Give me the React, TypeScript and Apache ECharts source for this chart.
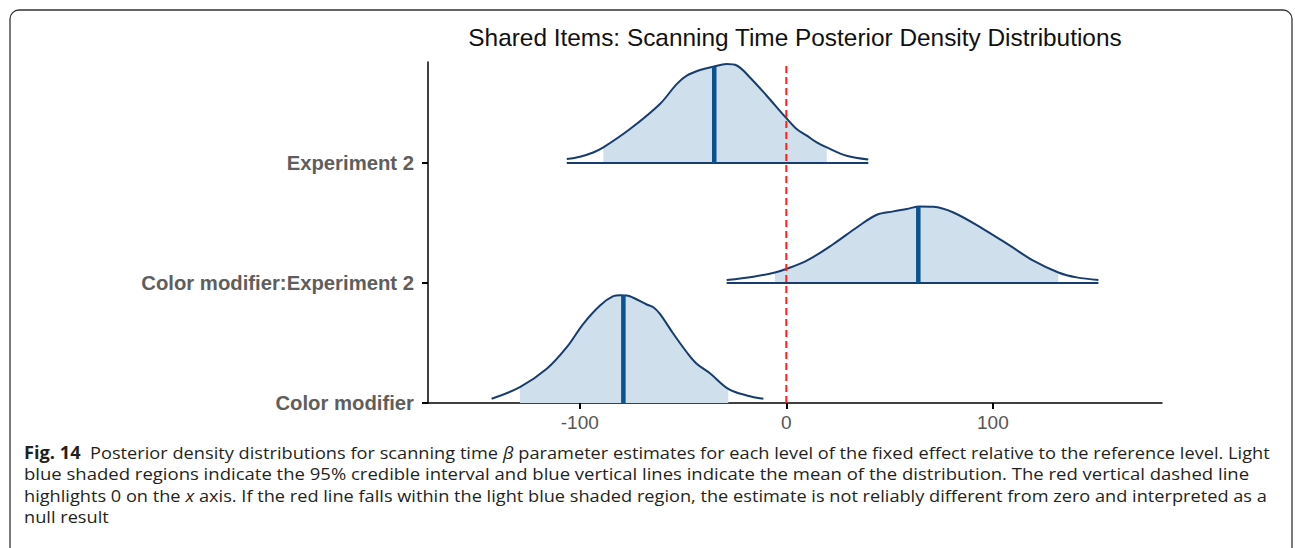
import React, { useEffect, useRef } from 'react';
import * as echarts from 'echarts';

// ---- data ----
const rowLabels = ['Color modifier', 'Color modifier:Experiment 2', 'Experiment 2'];
const xTicks = [-100, 0, 100];
const yTicks = [0, 1, 2];

// density outlines: beta value and ridge height (in row units)
const cmX = [-142.7, -129.0, -116.0, -106.3, -98.3, -90.2, -83.8, -80.5, -77.3, -74.1, -67.6, -64.4, -61.2, -54.7, -48.2, -43.4, -37.0, -28.1, -19.2, -11.1];
const cmH = [0.035, 0.132, 0.285, 0.465, 0.660, 0.813, 0.890, 0.898, 0.896, 0.877, 0.821, 0.798, 0.743, 0.577, 0.423, 0.327, 0.248, 0.118, 0.063, 0.035];

const cmeX = [-28.9, -16.0, -5.5, -0.1, 9.9, 22.8, 34.1, 43.8, 51.8, 58.3, 64.7, 71.2, 80.9, 95.4, 108.3, 119.6, 131.7, 140.6, 151.1];
const cmeH = [0.025, 0.053, 0.088, 0.117, 0.186, 0.325, 0.463, 0.569, 0.597, 0.617, 0.638, 0.636, 0.588, 0.450, 0.311, 0.186, 0.088, 0.047, 0.025];

const e2X = [-106.3, -99.9, -93.5, -88.6, -75.7, -61.2, -53.1, -48.2, -41.8, -35.4, -28.9, -24.0, -17.6, -9.5, -0.3, 5.0, 9.9, 14.7, 19.6, 29.2, 39.7];
const e2H = [0.033, 0.053, 0.088, 0.130, 0.283, 0.492, 0.658, 0.728, 0.775, 0.803, 0.825, 0.813, 0.713, 0.561, 0.380, 0.283, 0.228, 0.172, 0.130, 0.061, 0.030];

const means = [-78.9, 63.9, -34.9];
const meanHeights = [0.898, 0.638, 0.803];
const ciLow = [-129.0, -5.5, -88.6];
const ciHigh = [-28.1, 131.7, 19.6];

const titleText = 'Shared Items: Scanning Time Posterior Density Distributions';

type Seg = { t: string; s: 'n' | 'b' | 'i' };
const captionLines: Seg[][] = [
  [
    { t: 'Fig. 14', s: 'b' },
    { t: '  Posterior density distributions for scanning time ', s: 'n' },
    { t: 'β', s: 'i' },
    { t: ' parameter estimates for each level of the fixed effect relative to the reference level. Light', s: 'n' },
  ],
  [
    { t: 'blue shaded regions indicate the 95% credible interval and blue vertical lines indicate the mean of the distribution. The red vertical dashed line', s: 'n' },
  ],
  [
    { t: 'highlights 0 on the ', s: 'n' },
    { t: 'x', s: 'i' },
    { t: ' axis. If the red line falls within the light blue shaded region, the estimate is not reliably different from zero and interpreted as a', s: 'n' },
  ],
  [{ t: 'null result', s: 'n' }],
];
const captionTargets = [1246, 1226, 1244, 0];

const NAVY = '#173c6e';
const MEAN = '#0a5291';
const FILL = '#cfdfeb';
const CAP_FONT = '"Open Sans", "Noto Sans", sans-serif';
const CAP_SIZE = 17;

function fontFor(s: 'n' | 'b' | 'i') {
  const w = s === 'b' ? 'bold ' : '';
  const st = s === 'i' ? 'italic ' : '';
  return `${st}${w}${CAP_SIZE}px ${CAP_FONT}`;
}

export default function App() {
  const ref = useRef<HTMLDivElement>(null);
  useEffect(() => {
    if (!ref.current) return;
    const chart = echarts.init(ref.current, undefined, { renderer: 'svg' });
    const ctx = document.createElement('canvas').getContext('2d')!;
    const measure = (t: string, s: 'n' | 'b' | 'i') => {
      ctx.font = fontFor(s);
      return ctx.measureText(t).width;
    };

    const ridges = [
      { x: cmX, h: cmH },
      { x: cmeX, h: cmeH },
      { x: e2X, h: e2H },
    ];
    const series: any[] = [];
    ridges.forEach((r, i) => {
      const pts = r.x.map((x, k) => [x, i + r.h[k]]);
      const fillPts = pts.filter((p) => p[0] >= ciLow[i] - 1e-6 && p[0] <= ciHigh[i] + 1e-6);
      series.push({
        type: 'line', data: fillPts, smooth: 0.35, symbol: 'none', silent: true,
        lineStyle: { width: 0, opacity: 0 },
        areaStyle: { color: FILL, opacity: 1, origin: i },
        z: 1,
      });
      series.push({
        type: 'line', data: pts, smooth: 0.35, symbol: 'none', silent: true,
        lineStyle: { color: NAVY, width: 2 }, z: 3,
      });
      if (i > 0) {
        series.push({
          type: 'line', data: [[r.x[0], i], [r.x[r.x.length - 1], i]], symbol: 'none', silent: true,
          lineStyle: { color: NAVY, width: 2 }, z: 3,
        });
      }
      series.push({
        type: 'line', data: [[means[i], i], [means[i], i + meanHeights[i]]], symbol: 'none', silent: true,
        lineStyle: { color: MEAN, width: 4.5 }, z: 4,
      });
    });
    series.push({
      type: 'line', data: [[0, 0], [0, 2.842]], symbol: 'none', silent: true,
      lineStyle: { color: '#ff2020', width: 2, type: [7, 4] }, z: 5,
    });

    const graphics: any[] = [];
    graphics.push({
      type: 'rect', shape: { x: 10, y: 10, width: 1282, height: 620, r: 9 },
      style: { fill: 'none', stroke: '#333', lineWidth: 1.3 }, silent: true,
    });
    graphics.push({
      type: 'text', x: 795, y: 37,
      style: { text: titleText, fill: '#111', font: '24.4px "Liberation Sans", Arial, sans-serif', align: 'center', verticalAlign: 'middle' },
    });
    let lastScale = 1;
    captionLines.forEach((segs, li) => {
      const total = segs.reduce((a, sg) => a + measure(sg.t, sg.s), 0);
      const sc = captionTargets[li] ? captionTargets[li] / total : lastScale;
      if (captionTargets[li]) lastScale = sc;
      const children: any[] = [];
      let cum = 0;
      segs.forEach((sg) => {
        const trimmedStart = sg.t.replace(/^\s+/, '');
        const lead = sg.t.length - trimmedStart.length;
        const x = cum + (lead ? measure(' '.repeat(lead), sg.s) : 0);
        children.push({
          type: 'text', x, y: 0,
          style: {
            text: sg.t.trim(), fill: '#231f20', font: fontFor(sg.s),
            align: 'left', verticalAlign: 'middle',
          },
        });
        cum += measure(sg.t, sg.s);
      });
      graphics.push({
        type: 'group', x: 24, y: 452.5 + li * 21.3, scaleX: sc, scaleY: 1, children,
      });
    });

    chart.setOption({
      animation: false,
      grid: { left: 428, right: 133, top: 62, bottom: 145, containLabel: false },
      xAxis: {
        type: 'value', min: -173.5, max: 181.9,
        splitLine: { show: false },
        axisLine: { show: true, onZero: false, lineStyle: { color: '#000', width: 1.5 } },
        axisTick: { show: true, inside: false, length: 6, lineStyle: { color: '#000', width: 2 }, customValues: xTicks },
        axisLabel: {
          customValues: xTicks, color: '#555', fontSize: 19, margin: 10,
          fontFamily: '"Liberation Sans", Arial, sans-serif',
        },
      },
      yAxis: {
        type: 'value', min: 0, max: 2.842,
        splitLine: { show: false },
        axisLine: { show: true, onZero: false, lineStyle: { color: '#000', width: 1.5 } },
        axisTick: { show: true, inside: false, length: 6, lineStyle: { color: '#000', width: 2 }, customValues: yTicks },
        axisLabel: {
          customValues: yTicks, color: '#5e5e5e', fontSize: 20.3, fontWeight: 'bold', margin: 14,
          fontFamily: '"Liberation Sans", Arial, sans-serif',
          formatter: (v: number) => rowLabels[Math.round(v)] ?? '',
        },
      },
      series,
      graphic: graphics,
    });
    return () => chart.dispose();
  }, []);
  return (
    <div
      ref={ref}
      style={{ position: 'fixed', left: 0, top: 0, width: 1295, height: 548, background: '#fff' }}
    />
  );
}
